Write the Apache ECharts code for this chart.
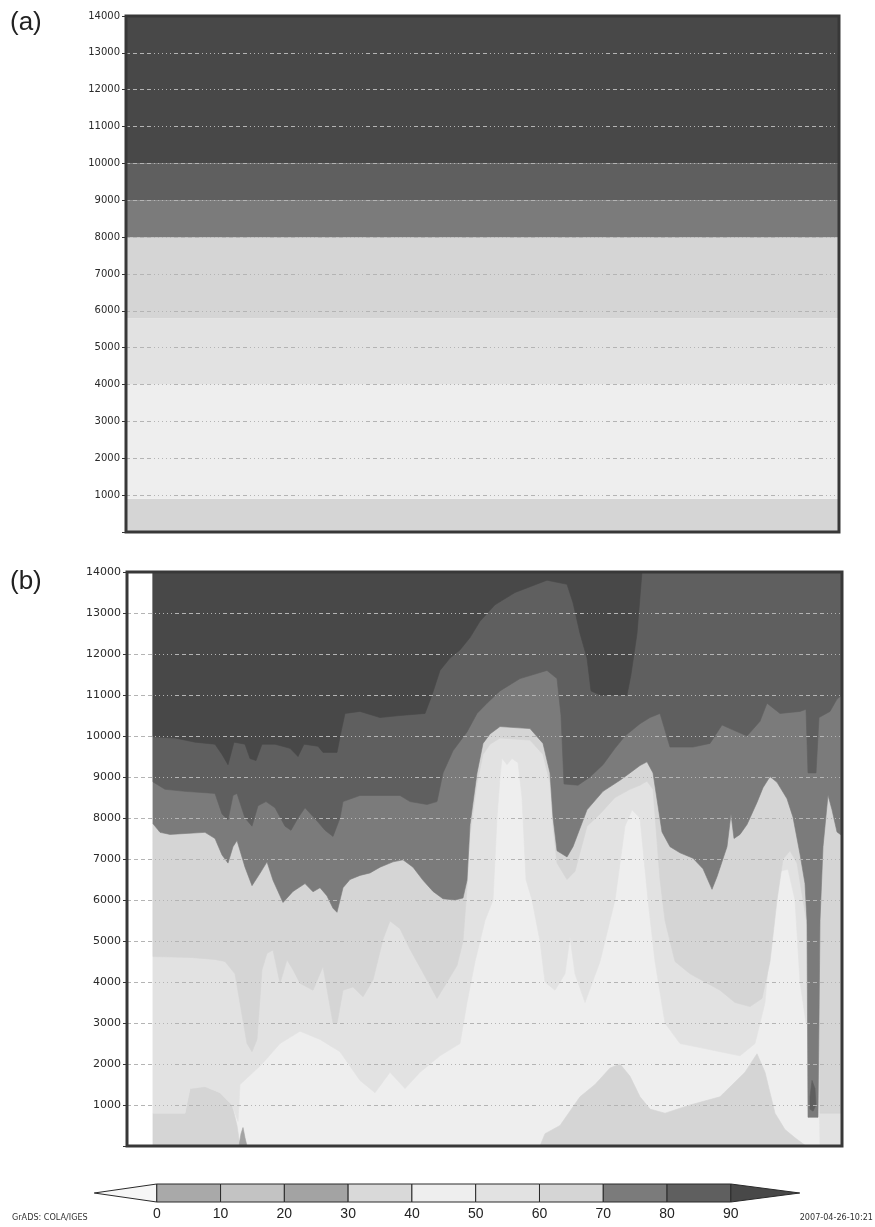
<!DOCTYPE html>
<html><head><meta charset="utf-8">
<script src="https://cdn.jsdelivr.net/npm/echarts@6/dist/echarts.min.js"></script>
<style>html,body{margin:0;padding:0;background:#fff;}#chart{width:875px;height:1227px;}</style>
</head><body><div id="chart"></div>
<script>
// ---------- shading classes (colour bar) ----------
const levelLabels = ['<0','0-10','10-20','20-30','30-40','40-50','50-60','60-70','70-80','80-90','>90'];
const levelColors = ['#f6f6f6','#a9a9a9','#c3c3c3','#a3a3a3','#d9d9d9','#eeeeee','#e2e2e2','#d5d5d5','#7b7b7b','#5f5f5f','#484848'];
const colorbarTicks = [0,10,20,30,40,50,60,70,80,90];

// ---------- axes ----------
const heightMax = 14000;   // m
const timeSteps = 715;     // x extent (time steps)

// ---------- panel (a): horizontally uniform profile ----------
const aBandTop   = [900, 4000, 5800, 8000, 9000, 10000, 14000];
const aBandLevel = [7, 5, 6, 7, 8, 9, 10];

// ---------- panel (b): class edges [time, height] ----------
const bBase = [[26,0],[715,0]];
// below this edge: 60-70 near ground
const bLow60 = [[26,800],[58,800],[63,1400],[78,1450],[93,1300],[105,1000],[110,500],[113,0],[413,0],[418,300],[433,500],[453,1200],[468,1500],[483,1900],[493,2000],[503,1700],[513,1200],[523,900],[538,800],[563,1000],[593,1200],[618,1800],[630,2250],[638,1800],[648,800],[658,400],[668,200],[679,0],[715,0]];
// above this edge: >=50
const bEdge50 = [[26,800],[58,800],[63,1400],[78,1450],[93,1300],[105,1000],[111,600],[113,1500],[135,2000],[153,2500],[173,2800],[193,2600],[213,2300],[233,1600],[248,1300],[263,1800],[278,1400],[293,1800],[313,2200],[333,2500],[340,3500],[348,4500],[358,5500],[366,6000],[370,8000],[373,9000],[375,9460],[380,9300],[385,9450],[391,9350],[395,8500],[399,6500],[405,6000],[413,5000],[418,4000],[428,3800],[438,4200],[443,5100],[448,4200],[458,3500],[473,4500],[488,6000],[498,7800],[505,8200],[513,8000],[521,6000],[528,4500],[538,3000],[553,2500],[573,2400],[593,2300],[613,2200],[628,2500],[638,3500],[645,5500],[653,6700],[661,6750],[668,6000],[673,4000],[679,3000],[691,3000],[693,0],[715,0]];
// above this edge: >=60
const bEdge60 = [[26,4620],[63,4600],[88,4550],[98,4500],[108,4200],[115,3200],[120,2500],[125,2300],[130,2600],[135,4300],[140,4700],[146,4780],[153,3970],[160,4540],[166,4300],[173,3970],[186,3800],[196,4380],[206,3000],[210,2990],[216,3800],[226,3880],[236,3640],[246,4050],[256,5040],[263,5490],[273,5300],[283,4800],[300,4050],[310,3600],[320,4000],[330,4400],[336,5000],[340,6300],[343,7600],[350,8850],[356,9550],[363,9800],[373,9950],[403,9900],[416,9550],[423,8850],[426,7800],[430,6900],[440,6500],[448,6700],[460,7800],[473,8100],[488,8500],[503,8700],[513,8800],[520,8900],[526,8700],[533,6500],[538,5500],[548,4500],[563,4200],[578,4000],[593,3800],[608,3500],[623,3400],[635,3600],[643,4500],[650,6000],[656,7000],[663,7200],[670,6900],[676,6000],[680,5400],[691,5000],[693,800],[715,800]];
// above this edge: >=70
const bEdge70 = [[26,7860],[33,7650],[43,7600],[78,7650],[88,7500],[95,7100],[101,6900],[106,7300],[110,7450],[118,6800],[125,6350],[133,6650],[140,6930],[146,6480],[156,5940],[166,6210],[178,6400],[186,6200],[193,6300],[200,6100],[206,5800],[210,5700],[216,6300],[223,6500],[233,6600],[243,6660],[253,6800],[266,6930],[276,6980],[286,6800],[296,6480],[306,6210],[316,6030],[328,6000],[336,6050],[340,6480],[343,7840],[350,9100],[356,9820],[363,10050],[373,10230],[403,10180],[416,9820],[423,9100],[426,8020],[430,7200],[440,7050],[446,7300],[460,8200],[476,8650],[493,8920],[503,9100],[513,9280],[520,9370],[526,9100],[535,7660],[543,7300],[553,7150],[566,7020],[576,6760],[585,6260],[590,6570],[600,7300],[604,8100],[607,7500],[613,7600],[620,7840],[630,8380],[636,8740],[643,9010],[650,8870],[660,8470],[666,8020],[673,7120],[678,6400],[680,5490],[681,700],[691,700],[693,5500],[696,7300],[701,8560],[705,8200],[710,7660],[715,7570]];
// above this edge: >=80
const bEdge80 = [[26,8880],[38,8700],[58,8650],[88,8600],[95,8100],[101,7950],[106,8550],[110,8600],[118,8000],[125,7800],[131,8300],[139,8400],[148,8250],[158,7800],[164,7700],[171,8000],[178,8250],[191,7900],[198,7700],[206,7550],[213,8000],[216,8400],[233,8550],[273,8550],[283,8400],[300,8330],[310,8400],[316,9100],[326,9640],[340,10100],[350,10550],[360,10800],[373,11100],[393,11400],[420,11600],[430,11400],[434,10500],[437,8830],[451,8800],[463,9000],[476,9300],[488,9700],[498,10000],[513,10300],[523,10450],[533,10550],[543,9730],[566,9730],[583,9820],[595,10270],[603,10180],[620,10000],[633,10360],[640,10800],[653,10550],[673,10600],[679,10650],[681,9100],[689,9100],[692,10450],[703,10600],[710,10900],[715,11000]];
// above this edge: >90
const bEdge90 = [[26,9980],[48,9950],[68,9850],[88,9800],[95,9550],[101,9300],[107,9850],[118,9800],[123,9450],[129,9400],[135,9800],[148,9800],[163,9700],[171,9500],[177,9800],[191,9750],[196,9600],[210,9600],[214,10100],[218,10550],[233,10600],[253,10450],[273,10500],[298,10550],[305,11000],[313,11600],[323,11900],[333,12100],[343,12400],[353,12800],[368,13200],[388,13500],[420,13800],[440,13700],[446,13250],[453,12500],[460,11900],[464,11100],[473,11000],[500,11000],[504,11500],[510,12500],[515,14000],[715,14000]];
// small closed patches
const bBlob80  = [[683,900],[683,1200],[685,1600],[688,1400],[689,1000],[686,850]];
const bSpeck20 = [[112,0],[114,300],[116,450],[118,200],[120,0]];

const bLayers = [
  {line: bBase,   side: 'above', level: 5},
  {line: bLow60,  side: 'below', level: 7},
  {line: bEdge50, side: 'above', level: 6},
  {line: bEdge60, side: 'above', level: 7},
  {line: bEdge70, side: 'above', level: 8},
  {line: bEdge80, side: 'above', level: 9},
  {line: bEdge90, side: 'above', level: 10},
  {line: bBlob80, side: 'poly',  level: 9},
  {line: bSpeck20,side: 'poly',  level: 3}
];

const FONT = 'Liberation Sans, Arial, sans-serif';
const chart = echarts.init(document.getElementById('chart'), null, {renderer: 'canvas'});

const gridLineStyle = {color: '#b4b4b4', width: 1, type: [4,3,4,3,4,3,4,3,1,3,1,3,1,3,1,3,1,3]};

function heightAxis(gi, fs) {
  return {
    type: 'value', gridIndex: gi, min: 0, max: heightMax, interval: 1000, z: 4,
    axisLine: {show: false},
    axisTick: {show: true, length: 4, lineStyle: {color: '#333'}},
    axisLabel: {fontSize: fs, color: '#2a2a2a', fontFamily: 'DejaVu Sans, sans-serif', margin: 6,
      formatter: v => v === 0 ? '' : String(v)},
    splitLine: {show: true, lineStyle: gridLineStyle}
  };
}
function timeAxis(gi) {
  return {type: 'value', gridIndex: gi, min: 0, max: timeSteps, show: false, splitLine: {show: false}};
}

function frameItem(params, api) {
  const p0 = api.coord([0, heightMax]);
  const p1 = api.coord([timeSteps, 0]);
  return {type: 'rect', shape: {x: p0[0], y: p0[1], width: p1[0]-p0[0], height: p1[1]-p0[1]},
    style: {fill: 'none', stroke: '#383838', lineWidth: 3}};
}

const option = {
  animation: false,
  backgroundColor: '#ffffff',
  grid: [
    {left: 126, top: 16, width: 713, height: 516},
    {left: 127, top: 572, width: 715, height: 574},
    {left: 93, top: 1184, width: 708, height: 18}
  ],
  xAxis: [timeAxis(0), timeAxis(1),
    {type: 'value', gridIndex: 2, min: -10, max: 101, interval: 10,
     axisLine: {show: false}, axisTick: {show: false}, splitLine: {show: false},
     axisLabel: {fontSize: 14, color: '#222', fontFamily: FONT, margin: 5,
       formatter: v => (v >= 0 && v <= 90) ? String(v) : ''}}],
  yAxis: [heightAxis(0, 10), heightAxis(1, 11),
    {type: 'value', gridIndex: 2, min: 0, max: 1, show: false, splitLine: {show: false}}],
  graphic: [
    {type: 'text', left: 10, top: 10, style: {text: '(a)', font: '26px ' + FONT, fill: '#222'}},
    {type: 'text', left: 10, top: 569, style: {text: '(b)', font: '26px ' + FONT, fill: '#222'}},
    {type: 'text', left: 12, top: 1213, style: {text: 'GrADS: COLA/IGES', font: '9px DejaVu Sans Condensed, DejaVu Sans, sans-serif', fill: '#333'}},
    {type: 'text', right: 2, top: 1213, style: {text: '2007-04-26-10:21', font: '9px DejaVu Sans Condensed, DejaVu Sans, sans-serif', fill: '#333'}}
  ],
  series: [
    { // panel (a)
      type: 'custom', xAxisIndex: 0, yAxisIndex: 0, silent: true, z: 2,
      data: aBandTop.map((t, i) => [0, t, i === 0 ? 0 : aBandTop[i-1], aBandLevel[i]]),
      renderItem: (params, api) => {
        const top = api.value(1), bot = api.value(2), lev = api.value(3);
        const p0 = api.coord([0, top]), p1 = api.coord([timeSteps, bot]);
        return {type: 'rect', shape: {x: p0[0], y: p0[1], width: p1[0]-p0[0], height: p1[1]-p0[1]},
          style: {fill: levelColors[lev]}};
      }
    },
    { type: 'custom', xAxisIndex: 0, yAxisIndex: 0, silent: true, z: 8, data: [[0,0]], renderItem: frameItem },
    { // panel (b)
      type: 'custom', xAxisIndex: 1, yAxisIndex: 1, silent: true, z: 2,
      data: bLayers.map((L, i) => [i, 0]),
      renderItem: (params, api) => {
        const L = bLayers[params.dataIndex];
        let pts = L.line.map(p => api.coord(p));
        const first = L.line[0][0], last = L.line[L.line.length-1][0];
        if (L.side === 'above') pts = pts.concat([api.coord([last, heightMax]), api.coord([first, heightMax])]);
        else if (L.side === 'below') pts = pts.concat([api.coord([last, 0]), api.coord([first, 0])]);
        const c = levelColors[L.level];
        return {type: 'polygon', z2: params.dataIndex, shape: {points: pts}, style: {fill: c, stroke: c, lineWidth: 0.6}};
      }
    },
    { type: 'custom', xAxisIndex: 1, yAxisIndex: 1, silent: true, z: 8, data: [[0,0]], renderItem: frameItem },
    { // colour bar
      type: 'custom', xAxisIndex: 2, yAxisIndex: 2, silent: true, z: 2,
      data: levelLabels.map((l, i) => [i, 0]),
      renderItem: (params, api) => {
        const i = params.dataIndex;
        let pts;
        if (i === 0) pts = [[0,0],[0,1],[-9.8,0.5]];
        else if (i === 10) pts = [[90,0],[90,1],[100.8,0.5]];
        else pts = [[(i-1)*10,0],[(i-1)*10,1],[i*10,1],[i*10,0]];
        return {type: 'polygon', shape: {points: pts.map(p => api.coord(p))},
          style: {fill: levelColors[i], stroke: '#2a2a2a', lineWidth: 1}};
      }
    }
  ]
};
chart.setOption(option);
</script>
</body></html>
